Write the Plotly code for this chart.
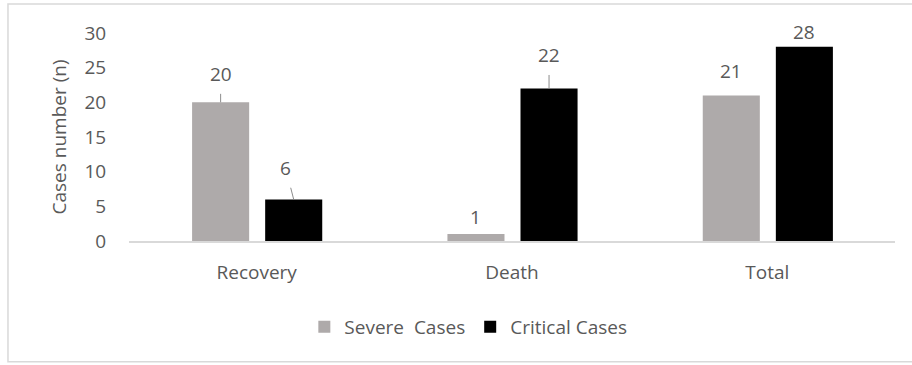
import plotly.graph_objects as go

# Outcome counts by severity group
categories = ["Recovery", "Death", "Total"]
severe_cases = [20, 1, 21]
critical_cases = [6, 22, 28]
series_names = ["Severe\u00a0 Cases", "Critical Cases"]

TEXT = "#595959"
FONT = "'Open Sans', Lato, sans-serif"
FS = 19
SEVERE_COLOR = "#AEAAAA"
CRITICAL_COLOR = "#000000"

BAR_W = 0.2235     # bar width in category units
OFF_L = -0.2529    # left bar offset from category centre
OFF_R = 0.0333     # right bar offset from category centre

fig = go.Figure()
fig.add_trace(go.Bar(
    x=categories, y=severe_cases, name=series_names[0],
    marker=dict(color=SEVERE_COLOR, line=dict(width=0)),
    width=BAR_W, offset=OFF_L,
))
fig.add_trace(go.Bar(
    x=categories, y=critical_cases, name=series_names[1],
    marker=dict(color=CRITICAL_COLOR, line=dict(width=0)),
    width=BAR_W, offset=OFF_R,
))

# Value labels: (pixel offset above bar top, horizontal pixel shift, leader line)
severe_label_style = [(-28, 0, True), (-17, 0, False), (-24, 0, False)]
critical_label_style = [(-31, -8, True), (-33, 0, True), (-15, 0, False)]

annotations = []
for series, style, off in ((severe_cases, severe_label_style, OFF_L),
                           (critical_cases, critical_label_style, OFF_R)):
    for i, (val, (dy, dx, leader)) in enumerate(zip(series, style)):
        xc = i + off + BAR_W / 2
        if leader:
            annotations.append(dict(
                x=xc, y=val, xref="x", yref="y", text=str(val),
                showarrow=True, arrowhead=0, arrowwidth=1, arrowcolor="#8C8C8C",
                ax=dx, ay=dy, startstandoff=5,
                font=dict(size=FS, color=TEXT, family=FONT),
            ))
        else:
            annotations.append(dict(
                x=xc, y=val, xref="x", yref="y", text=str(val),
                showarrow=False, yshift=-dy, xshift=dx,
                font=dict(size=FS, color=TEXT, family=FONT),
            ))

fig.update_layout(
    width=912, height=365,
    margin=dict(l=129, r=17, t=33, b=124),
    paper_bgcolor="white", plot_bgcolor="white",
    font=dict(family=FONT, size=FS, color=TEXT),
    barmode="group",
    showlegend=True,
    legend=dict(
        orientation="h", x=0.443, xanchor="center", y=-0.413, yanchor="middle",
        font=dict(size=FS, color=TEXT, family=FONT),
        itemwidth=30, traceorder="normal", bgcolor="rgba(0,0,0,0)",
    ),
    annotations=annotations,
    shapes=[dict(
        type="rect", xref="paper", yref="paper",
        x0=-0.158, x1=1.06, y0=-0.58, y1=1.139,
        line=dict(color="#D9D9D9", width=1.5), fillcolor="rgba(0,0,0,0)",
        layer="below",
    )],
)

fig.update_xaxes(
    type="category", categoryorder="array", categoryarray=categories,
    showline=True, linecolor="#D9D9D9", linewidth=1.5,
    showgrid=False, zeroline=False,
    ticks="outside", ticklen=13, tickcolor="rgba(0,0,0,0)",
    tickfont=dict(size=FS, color=TEXT, family=FONT),
)
fig.update_yaxes(
    range=[0, 30], tickmode="linear", tick0=0, dtick=5,
    showline=False, showgrid=False, zeroline=False,
    ticks="outside", ticklen=18, tickcolor="rgba(0,0,0,0)",
    tickfont=dict(size=FS, color=TEXT, family=FONT),
    title=dict(text="Cases number (n)", font=dict(size=FS, color=TEXT, family=FONT),
               standoff=12),
)

fig.write_html("out.html")
